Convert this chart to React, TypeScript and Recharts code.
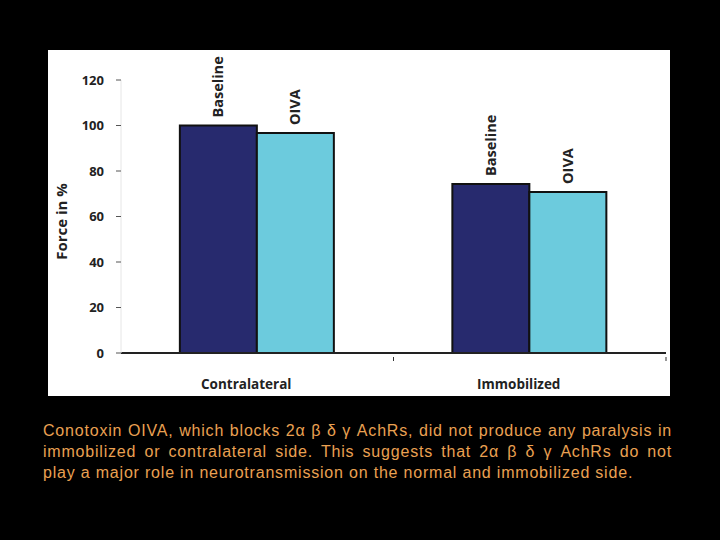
import { BarChart, Bar, XAxis, YAxis, LabelList } from 'recharts';

const categories = ['Contralateral', 'Immobilized'];
const baselineValues = [100, 74.3];
const oivaValues = [96.7, 70.8];
const yTicks = [0, 20, 40, 60, 80, 100, 120];

const captionLines = [
  'Conotoxin OIVA, which blocks 2α β δ γ AchRs, did not produce any paralysis in',
  'immobilized or contralateral side. This suggests that 2α β δ γ AchRs do not',
  'play a major role in neurotransmission on the normal and immobilized side.',
];

const chartData = categories.map((category, i) => ({
  category,
  baseline: baselineValues[i],
  oiva: oivaValues[i],
}));

const chartFont = '"Open Sans", "DejaVu Sans", sans-serif';

function barLabel(text: string) {
  return (props: any) => {
    const { x, y, width } = props;
    const cx = Number(x) + Number(width) / 2 + 5;
    const cy = Number(y) - 8;
    return (
      <text
        x={cx}
        y={cy}
        transform={`rotate(-90, ${cx}, ${cy})`}
        textAnchor="start"
        fontFamily={chartFont}
        fontWeight={700}
        fontSize={14.5}
        fill="#222"
      >
        {text}
      </text>
    );
  };
}

function CategoryTick(props: any) {
  const { x, y, payload } = props;
  const edge = x + (payload.offset || 0);
  return (
    <g>
      <line x1={edge} y1={y - 4} x2={edge} y2={y} stroke="#333" strokeWidth={1} />
      <text
        x={x - 11}
        y={y + 28}
        textAnchor="middle"
        fontFamily={chartFont}
        fontWeight={700}
        fontSize={13.5}
        fill="#222"
      >
        {payload.value}
      </text>
    </g>
  );
}

export default function App() {
  return (
    <div
      style={{
        position: 'fixed',
        left: 0,
        top: 0,
        width: 720,
        height: 540,
        background: '#000',
      }}
    >
      <div style={{ position: 'absolute', left: 48, top: 50, width: 622, height: 346, background: '#fff' }}>
        <BarChart
          width={622}
          height={346}
          data={chartData}
          margin={{ top: 30, right: 4, left: 0, bottom: 0 }}
          barCategoryGap="21.6%"
          barGap={0}
        >
          <XAxis
            dataKey="category"
            axisLine={{ stroke: '#222', strokeWidth: 2 }}
            tickLine={false}
            tick={<CategoryTick />}
            height={43}
          />
          <YAxis
            domain={[0, 120]}
            ticks={yTicks}
            width={73}
            axisLine={{ stroke: '#e6e6e6' }}
            tickLine={{ stroke: '#555' }}
            tickSize={5}
            tickMargin={12}
            tick={{ fontFamily: chartFont, fontWeight: 700, fontSize: 13, fill: '#222' }}
            label={{
              content: (p: any) => {
                const vb = p.viewBox || {};
                const lx = vb.x + 19;
                const ly = vb.y + vb.height / 2 + 5;
                return (
                  <text
                    x={lx}
                    y={ly}
                    transform={`rotate(-90, ${lx}, ${ly})`}
                    textAnchor="middle"
                    fontFamily={chartFont}
                    fontWeight={700}
                    fontSize={15}
                    fill="#222"
                  >
                    Force in %
                  </text>
                );
              },
            }}
          />
          <Bar dataKey="baseline" fill="#272a6e" stroke="#111" strokeWidth={2} isAnimationActive={false}>
            <LabelList dataKey="baseline" content={barLabel('Baseline')} />
          </Bar>
          <Bar dataKey="oiva" fill="#6ccbdd" stroke="#111" strokeWidth={2} isAnimationActive={false}>
            <LabelList dataKey="oiva" content={barLabel('OIVA')} />
          </Bar>
        </BarChart>
      </div>
      <div
        style={{
          position: 'absolute',
          left: 43,
          top: 420,
          width: 629,
          color: '#eaa152',
          fontFamily: '"Liberation Sans", Arial, sans-serif',
          fontSize: 16,
          lineHeight: '21px',
          letterSpacing: '0.8px',
        }}
      >
        {captionLines.map((line, i) => (
          <div
            key={i}
            style={{
              whiteSpace: 'nowrap',
              textAlign: 'justify',
              textAlignLast: i < captionLines.length - 1 ? 'justify' : 'left',
            }}
          >
            {line}
          </div>
        ))}
      </div>
    </div>
  );
}
